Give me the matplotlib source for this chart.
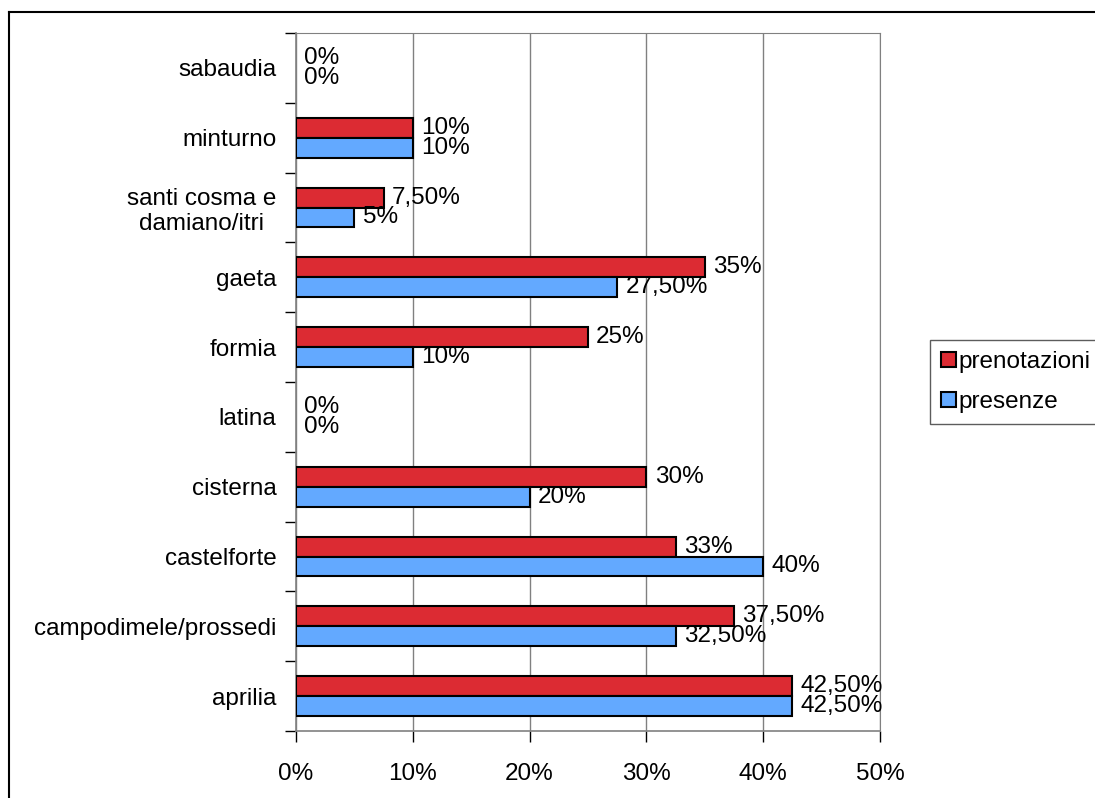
import numpy as np
import matplotlib.pyplot as plt
from matplotlib.lines import Line2D

plt.rcParams['font.family'] = ['Liberation Sans', 'DejaVu Sans']

# categorie dal basso verso l'alto
comuni = ['aprilia', 'campodimele/prossedi', 'castelforte', 'cisterna', 'latina',
          'formia', 'gaeta', 'santi cosma e\ndamiano/itri', 'minturno', 'sabaudia']
prenotazioni = [42.5, 37.5, 32.5, 30, 0, 25, 35, 7.5, 10, 0]
presenze = [42.5, 32.5, 40, 20, 0, 10, 27.5, 5, 10, 0]
lab_pren = ['42,50%', '37,50%', '33%', '30%', '0%', '25%', '35%', '7,50%', '10%', '0%']
lab_pres = ['42,50%', '32,50%', '40%', '20%', '0%', '10%', '27,50%', '5%', '10%', '0%']
xtick_val = [0, 10, 20, 30, 40, 50]

rosso = '#DC2B33'
blu = '#63A9FF'
fs = 17.5

fig = plt.figure(figsize=(10.95, 7.98), dpi=100)
ax = fig.add_axes([296/1095, 1-731/798, 584/1095, 698/798])

y = np.arange(len(comuni))
h = 0.285
lw_p = [1.5 if v > 0 else 0 for v in prenotazioni]
lw_s = [1.5 if v > 0 else 0 for v in presenze]
ax.barh(y+h/2, prenotazioni, h, color=rosso, edgecolor='black', linewidth=lw_p,
        label='prenotazioni', zorder=3)
ax.barh(y-h/2, presenze, h, color=blu, edgecolor='black', linewidth=lw_s,
        label='presenze', zorder=3)

for i in range(len(comuni)):
    ax.text(prenotazioni[i]+0.7, y[i]+h/2, lab_pren[i], va='center', ha='left',
            fontsize=fs, zorder=4)
    ax.text(presenze[i]+0.7, y[i]-h/2, lab_pres[i], va='center', ha='left',
            fontsize=fs, zorder=4)

ax.set_xlim(0, 50)
ax.set_ylim(-0.5, len(comuni)-0.5)
ax.set_xticks(xtick_val)
ax.set_xticklabels([str(v)+'%' for v in xtick_val], fontsize=fs)
ax.tick_params(axis='x', direction='out', length=8, width=1, color='black', pad=15)

# etichette al centro, tacche ai bordi delle categorie
ax.set_yticks(y)
ax.set_yticklabels(comuni, fontsize=fs, linespacing=1.15)
ax.set_yticks(np.arange(-0.5, len(comuni), 1), minor=True)
ax.tick_params(axis='y', which='major', length=0, pad=14)
ax.tick_params(axis='y', which='minor', direction='out', length=8, width=1, color='black')
for t in ax.get_yticklabels():
    t.set_horizontalalignment('right')
    t.set_multialignment('center')

ax.grid(axis='x', color='#808080', linewidth=1, zorder=0)
for s in ['top', 'right']:
    ax.spines[s].set_color('#808080')
for s in ['left', 'bottom']:
    ax.spines[s].set_color('#808080')
    ax.spines[s].set_linewidth(1.2)

handles = [plt.Rectangle((0, 0), 1, 1, facecolor=rosso, edgecolor='black', linewidth=1.5),
           plt.Rectangle((0, 0), 1, 1, facecolor=blu, edgecolor='black', linewidth=1.5)]
leg = fig.legend(handles, ['prenotazioni', 'presenze'], loc='upper left',
                 bbox_to_anchor=(930/1095, 1-340/798), fontsize=fs, frameon=True,
                 fancybox=False, edgecolor='#333333', handlelength=0.6, handleheight=0.6,
                 handletextpad=0.12, borderpad=0.45, labelspacing=0.75, borderaxespad=0)
leg.get_frame().set_linewidth(1)

# cornice esterna (solo sinistra e sopra visibili)
fig.add_artist(Line2D([9/1095, 9/1095], [0, 1-12/798], color='black', linewidth=1.5,
                      transform=fig.transFigure))
fig.add_artist(Line2D([9/1095, 1], [1-12/798, 1-12/798], color='black', linewidth=1.5,
                      transform=fig.transFigure))

fig.savefig('out.png', dpi=100)
